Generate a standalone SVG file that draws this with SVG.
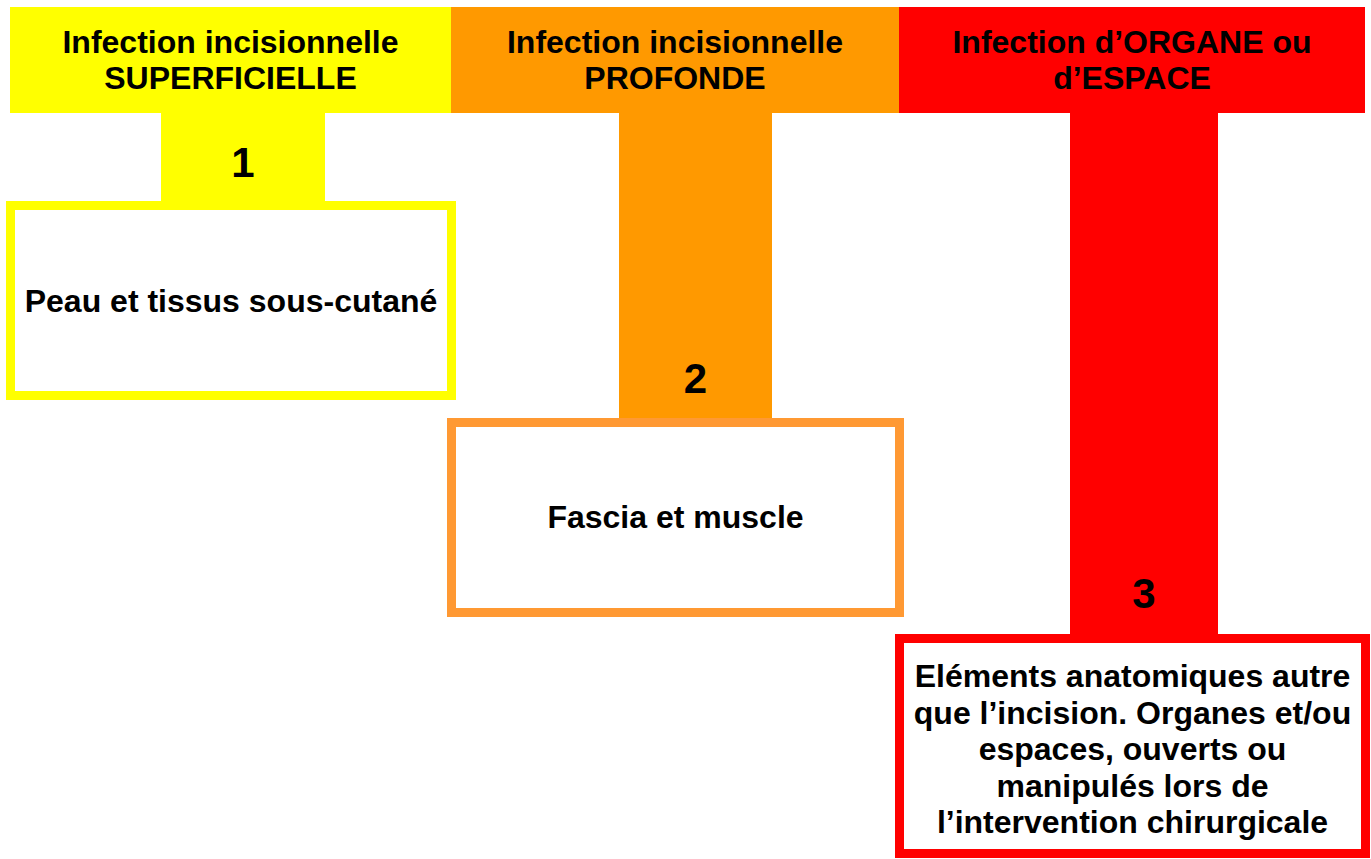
<svg xmlns="http://www.w3.org/2000/svg" width="1371" height="859" viewBox="0 0 1371 859">
<style>
text{font-family:"Liberation Sans",Arial,sans-serif;font-weight:bold;fill:#000;text-anchor:middle}
.t{font-size:32px}
.n{font-size:42px}
.box{fill:#fff;stroke-width:9}
</style>
<rect width="1371" height="859" fill="#fff"/>
<g id="connectors">
<rect x="161" y="112" width="164" height="90" fill="#FFFF00"/>
<rect x="619" y="112" width="153" height="307" fill="#FF9900"/>
<rect x="1070" y="112" width="148" height="523" fill="#FF0000"/>
</g>
<g id="header-superficielle">
<rect x="10" y="7" width="441" height="106" fill="#FFFF00"/>
<text class="t" x="230.5" y="53">Infection incisionnelle</text>
<text class="t" x="230.5" y="89">SUPERFICIELLE</text>
</g>
<g id="header-profonde">
<rect x="451" y="7" width="448" height="106" fill="#FF9900"/>
<text class="t" x="675" y="53">Infection incisionnelle</text>
<text class="t" x="675" y="89">PROFONDE</text>
</g>
<g id="header-organe">
<rect x="899" y="7" width="466" height="106" fill="#FF0000"/>
<text class="t" x="1132" y="53">Infection d’ORGANE ou</text>
<text class="t" x="1132" y="89">d’ESPACE</text>
</g>
<g id="num1"><text class="n" x="243" y="177">1</text></g>
<g id="num2"><text class="n" x="695.5" y="393">2</text></g>
<g id="num3"><text class="n" x="1144" y="608">3</text></g>
<g id="box-peau">
<rect class="box" x="10.5" y="205.5" width="441" height="190" stroke="#FFFF00"/>
<text class="t" x="231" y="312">Peau et tissus sous-cutané</text>
</g>
<g id="box-fascia">
<rect class="box" x="451.5" y="422.5" width="448" height="190" stroke="#FF9933"/>
<text class="t" x="675.5" y="528">Fascia et muscle</text>
</g>
<g id="box-organe">
<rect class="box" x="899.5" y="638.5" width="466" height="215" stroke="#FF0000"/>
<text class="t" x="1132.5" y="687">Eléments anatomiques autre</text>
<text class="t" x="1132.5" y="723.5">que l’incision. Organes et/ou</text>
<text class="t" x="1132.5" y="760">espaces, ouverts ou</text>
<text class="t" x="1132.5" y="796.5">manipulés lors de</text>
<text class="t" x="1132.5" y="833">l’intervention chirurgicale</text>
</g>
</svg>
